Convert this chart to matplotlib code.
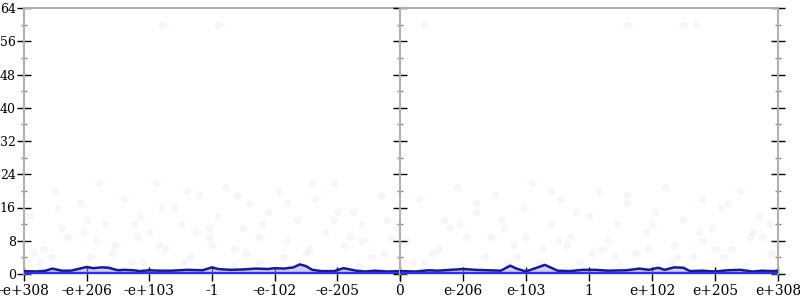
import matplotlib
matplotlib.use("Agg")
import matplotlib.pyplot as plt
from matplotlib.ticker import MultipleLocator

left_labels = ["-e+308", "-e+206", "-e+103", "-1", "-e-102", "-e-205", "0"]
right_labels = ["0", "e-206", "e-103", "1", "e+102", "e+205", "e+308"]

# line values, positions in tick units (0..6) for each panel
left_x = [0.0, 0.2, 0.35, 0.45, 0.6, 0.75, 0.95, 1.0, 1.1, 1.25, 1.35, 1.5, 1.6, 1.75,
          1.85, 2.0, 2.15, 2.35, 2.6, 2.85, 3.0, 3.1, 3.3, 3.5, 3.7, 3.9, 4.0, 4.15, 4.3,
          4.4, 4.5, 4.6, 4.75, 4.95, 5.1, 5.3, 5.45, 5.6, 5.8, 6.0]
left_y = [0.7, 0.6, 0.8, 1.3, 0.8, 0.8, 1.5, 1.7, 1.4, 1.6, 1.5, 0.9, 1.0, 0.9,
          0.7, 0.9, 0.8, 0.8, 1.0, 0.9, 1.6, 1.2, 1.0, 1.1, 1.3, 1.2, 1.4, 1.3, 1.6,
          2.3, 1.9, 1.0, 0.7, 0.7, 1.4, 0.8, 0.6, 0.8, 0.6, 0.7]

right_x = [0.0, 0.25, 0.45, 0.6, 0.8, 1.0, 1.2, 1.4, 1.6, 1.75, 1.85, 2.0, 2.15, 2.3,
           2.5, 2.7, 2.9, 3.1, 3.3, 3.6, 3.8, 3.95, 4.1, 4.2, 4.35, 4.5, 4.6, 4.8, 5.0,
           5.2, 5.4, 5.6, 5.75, 5.9, 6.0]
right_y = [0.7, 0.6, 0.9, 0.8, 1.0, 1.2, 1.0, 0.9, 0.8, 2.0, 1.3, 0.6, 1.4, 2.2,
           0.8, 0.7, 1.0, 1.0, 0.8, 0.9, 1.3, 1.0, 1.5, 1.0, 1.6, 1.5, 0.7, 0.8, 0.6,
           0.9, 1.0, 0.6, 0.8, 0.7, 0.8]

# faint scattered sample points (x in tick units, y value)
left_pts_x = [0.1, 0.3, 0.5, 0.7, 0.9, 1.05, 1.2, 1.3, 1.45, 1.6, 1.7, 1.85, 2.0, 2.1,
              2.25, 2.4, 2.5, 2.65, 2.8, 2.95, 3.1, 3.2, 3.35, 3.5, 3.6, 3.75, 3.9, 4.05,
              4.2, 4.35, 4.5, 4.65, 4.8, 4.95, 5.1, 5.25, 5.4, 5.55, 5.7, 5.85, 0.25, 0.6,
              1.0, 1.4, 1.8, 2.2, 2.6, 3.0, 3.4, 3.8, 4.2, 4.6, 5.0, 5.4, 5.8, 2.2, 3.1,
              0.15, 0.55, 0.95, 1.35, 1.75, 2.15, 2.55, 2.95, 3.35, 3.75, 4.15, 4.55,
              4.95, 5.35, 5.75, 0.45, 1.15, 1.9, 2.75, 3.55, 4.4, 5.2, 5.95]
left_pts_y = [14, 6, 20, 9, 17, 4, 22, 12, 7, 18, 3, 14, 10, 22, 6, 16, 12, 4, 19, 9,
              14, 21, 6, 11, 17, 3, 15, 20, 8, 13, 5, 18, 10, 22, 7, 15, 12, 4, 19, 9,
              3, 11, 13, 5, 9, 16, 20, 7, 19, 12, 17, 22, 15, 8, 13, 60, 60,
              5, 16, 10, 2, 12, 7, 3, 11, 2, 9, 4, 6, 13, 2, 5, 4, 8, 3, 10, 5, 3, 9, 11]
right_pts_x = [0.1, 0.3, 0.5, 0.7, 0.9, 1.05, 1.2, 1.35, 1.5, 1.65, 1.8, 1.95, 2.1, 2.25,
               2.4, 2.55, 2.7, 2.85, 3.0, 3.15, 3.3, 3.45, 3.6, 3.75, 3.9, 4.05, 4.2, 4.35,
               4.5, 4.65, 4.8, 4.95, 5.1, 5.25, 5.4, 5.55, 5.7, 5.85, 0.4, 0.8, 1.2, 1.6,
               2.0, 2.4, 2.8, 3.2, 3.6, 4.0, 4.4, 4.8, 5.2, 5.6, 0.4, 3.6, 4.5, 4.7,
               0.2, 0.6, 1.0, 1.45, 1.85, 2.2, 2.65, 3.05, 3.5, 3.95, 4.3, 4.75, 5.15,
               5.5, 5.9, 0.95, 1.7, 2.5, 3.4, 4.1, 5.0, 5.75]
right_pts_y = [8, 18, 5, 13, 21, 9, 15, 4, 19, 11, 7, 16, 22, 6, 12, 18, 9, 3, 14, 20,
               8, 12, 17, 5, 10, 15, 21, 7, 13, 4, 18, 11, 16, 6, 20, 9, 14, 12, 3, 11,
               17, 13, 9, 20, 15, 6, 19, 12, 4, 8, 17, 10, 60, 60, 60, 60,
               3, 6, 2, 9, 4, 3, 7, 5, 2, 6, 3, 10, 4, 2, 5, 12, 3, 8, 4, 2, 6, 9]

LINE = "#1a1a8c"
FILL = "#9999ee"
PTS = "#7777ff"
GRAY = "#b0b0b0"

plt.rcParams["font.family"] = ["DejaVu Serif"]
fig = plt.figure(figsize=(8, 3), dpi=100)
axL = fig.add_axes([24 / 800, 26 / 300, 376 / 800, 266 / 300])
axR = fig.add_axes([400 / 800, 26 / 300, 378 / 800, 266 / 300])

for ax, lx, ly, px, py, labels in [
    (axL, left_x, left_y, left_pts_x, left_pts_y, left_labels),
    (axR, right_x, right_y, right_pts_x, right_pts_y, right_labels),
]:
    ax.scatter(px, py, s=18, color=PTS, alpha=0.06, edgecolors=PTS, linewidths=0.8, zorder=1)
    ax.fill_between(lx, 0, ly, color=FILL, alpha=0.45, linewidth=0, zorder=2)
    ax.fill_between(lx, 0, [min(v, 0.9) for v in ly], color=FILL, alpha=0.4, linewidth=0, zorder=2)
    ax.plot(lx, ly, color=LINE, linewidth=1.8, zorder=3)
    ax.axhline(0, color="#3030e0", linewidth=3, zorder=3)
    ax.set_xlim(0, 6)
    ax.set_ylim(0, 64)
    ax.set_xticks(range(7))
    ax.yaxis.set_major_locator(MultipleLocator(8))
    ax.yaxis.set_minor_locator(MultipleLocator(4))
    for s in ["top", "left", "right"]:
        ax.spines[s].set_color(GRAY)
        ax.spines[s].set_linewidth(1.5)
    ax.spines["bottom"].set_visible(False)
    ax.tick_params(axis="x", direction="inout", length=10, width=1, color="black", pad=2)
    ax.tick_params(axis="y", which="major", direction="inout", length=10, width=1, color="black")
    ax.tick_params(axis="y", which="minor", direction="inout", length=5, width=1, color="#888888")

axL.set_xticklabels(left_labels[:-1] + [""], fontsize=10)
axR.set_xticklabels(right_labels, fontsize=10)
axL.spines["right"].set_visible(False)
axL.tick_params(axis="y", labelsize=9, pad=1)
axR.tick_params(axis="y", which="both", left=True, right=True, labelleft=False)

fig.savefig("out.png", dpi=100)
